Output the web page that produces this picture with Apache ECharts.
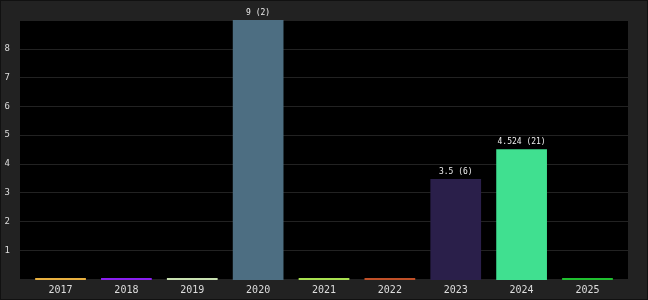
<!DOCTYPE html>
<html><head><meta charset="utf-8">
<script src="https://cdn.jsdelivr.net/npm/echarts@6/dist/echarts.min.js"></script>
<style>html,body{margin:0;padding:0;background:#222;}#c{width:648px;height:300px;box-sizing:border-box;border:1px solid #111;}</style>
</head><body><div id="c"></div>
<script>
const categories = ['2017','2018','2019','2020','2021','2022','2023','2024','2025'];
const values = [0, 0, 0, 9, 0, 0, 3.5, 4.524, 0];
const counts = [0, 0, 0, 2, 0, 0, 6, 21, 0];
const colors = ['#e8b040','#8a20f0','#c8e0b0','#4d6e82','#a8e050','#c05028','#2a1f4a','#40e090','#20c030'];
const yTicks = [1,2,3,4,5,6,7,8];

const chart = echarts.init(document.getElementById('c'), null, {renderer:'canvas'});
chart.setOption({
  backgroundColor: '#222',
  animation: false,
  grid: [
    {left: 19, right: 19, top: 19, bottom: 20, show: true, backgroundColor: '#000', borderWidth: 0},
    {left: 26.6, right: 26.6, top: 19, bottom: 19, show: false}
  ],
  xAxis: [
    {gridIndex: 0, type: 'category', data: categories, show: false},
    {gridIndex: 1, type: 'category', data: categories,
     axisLine: {show: false}, axisTick: {show: false},
     axisLabel: {color: '#ddd', fontFamily: 'DejaVu Sans Mono', fontSize: 10, margin: 5}}
  ],
  yAxis: [
    {gridIndex: 0, type: 'value', min: 0, max: 9, interval: 1,
     axisLine: {show: false}, axisTick: {show: false},
     splitLine: {lineStyle: {color: '#222', width: 1}},
     axisLabel: {color: '#ddd', fontFamily: 'DejaVu Sans Mono', fontSize: 9, margin: 10,
       formatter: v => yTicks.includes(v) ? String(v) : ''}},
    {gridIndex: 1, type: 'value', min: 0, max: 9, interval: 1, show: false, splitLine: {show: false}}
  ],
  series: [{
    type: 'bar', xAxisIndex: 1, yAxisIndex: 1, barWidth: '77%', barMinHeight: 2,
    data: values.map((v, i) => ({
      value: v,
      itemStyle: {color: colors[i]},
      label: {show: v > 0}
    })),
    label: {
      position: 'top', distance: 3, color: '#eee', fontFamily: 'DejaVu Sans Mono', fontSize: 8,
      formatter: p => p.value + ' (' + counts[p.dataIndex] + ')'
    }
  }]
});
</script></body></html>
